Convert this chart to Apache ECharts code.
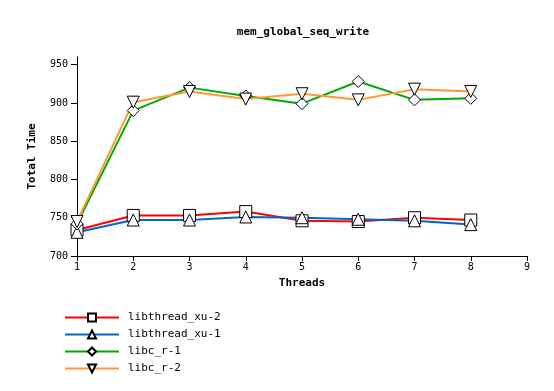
<!DOCTYPE html>
<html><head><meta charset="utf-8">
<script src="https://cdn.jsdelivr.net/npm/echarts@6/dist/echarts.min.js"></script>
<style>html,body{margin:0;padding:0;background:#fff}#c{width:554px;height:391px}</style>
</head><body><div id="c"></div>
<script>
const threads = [1,2,3,4,5,6,7,8];
const xu2 = [734,753,753,758,746,745,750,747];
const xu1 = [731,747,747,751,750,748,746,741];
const libc1 = [742,890,920,909,899,928,904,906];
const libc2 = [745,901,915,905,912,904,918,915];
const yTicks = [700,750,800,850,900,950];
const names = ['libthread_xu-2','libthread_xu-1','libc_r-1','libc_r-2'];
const colors = ['#ff0000','#0066cc','#00aa00','#ff9933'];
const symbols = ['rect','triangle','diamond','triangle'];
const rotates = [0,0,0,180];
const seriesData = [xu2,xu1,libc1,libc2];
const font = 'DejaVu Sans Mono';
const chart = echarts.init(document.getElementById('c'));
chart.setOption({
  animation:false,
  backgroundColor:'#fff',
  title:{text:'mem_global_seq_write',left:298,top:22,textAlign:'center',
    textStyle:{fontFamily:font,fontSize:11,fontWeight:'bold',color:'#000'}},
  grid:{left:77,right:27,top:57,bottom:135},
  legend:{orient:'vertical',left:59,top:307,itemWidth:54,itemHeight:10,itemGap:6,
    textStyle:{fontFamily:font,fontSize:11,color:'#000',padding:[0,0,0,4]},
    data:names},
  xAxis:{type:'value',min:1,max:9,interval:1,name:'Threads',nameLocation:'middle',nameGap:22,
    nameTextStyle:{fontFamily:font,fontSize:11,fontWeight:'bold',color:'#000'},
    axisLine:{lineStyle:{color:'#000',width:1}},axisTick:{length:5,lineStyle:{color:'#000'}},
    axisLabel:{fontFamily:font,fontSize:10,color:'#000',margin:6},splitLine:{show:false}},
  yAxis:{type:'value',min:700,max:960,name:'Total Time',nameLocation:'middle',nameGap:39,
    nameTextStyle:{fontFamily:font,fontSize:11,fontWeight:'bold',color:'#000'},
    axisLine:{show:true,lineStyle:{color:'#000',width:1}},
    axisTick:{show:true,length:6,lineStyle:{color:'#000'},customValues:yTicks},
    axisLabel:{fontFamily:font,fontSize:10,color:'#000',margin:9,customValues:yTicks},
    splitLine:{show:false}},
  series:names.map((n,i)=>({
    name:n,type:'line',data:threads.map((t,j)=>[t,seriesData[i][j]]),
    symbol:symbols[i],symbolRotate:rotates[i],symbolSize:12,showAllSymbol:true,
    lineStyle:{color:colors[i],width:2},
    itemStyle:{color:'#fff',borderColor:'#000',borderWidth:1},
    color:colors[i]
  }))
});
</script></body></html>
